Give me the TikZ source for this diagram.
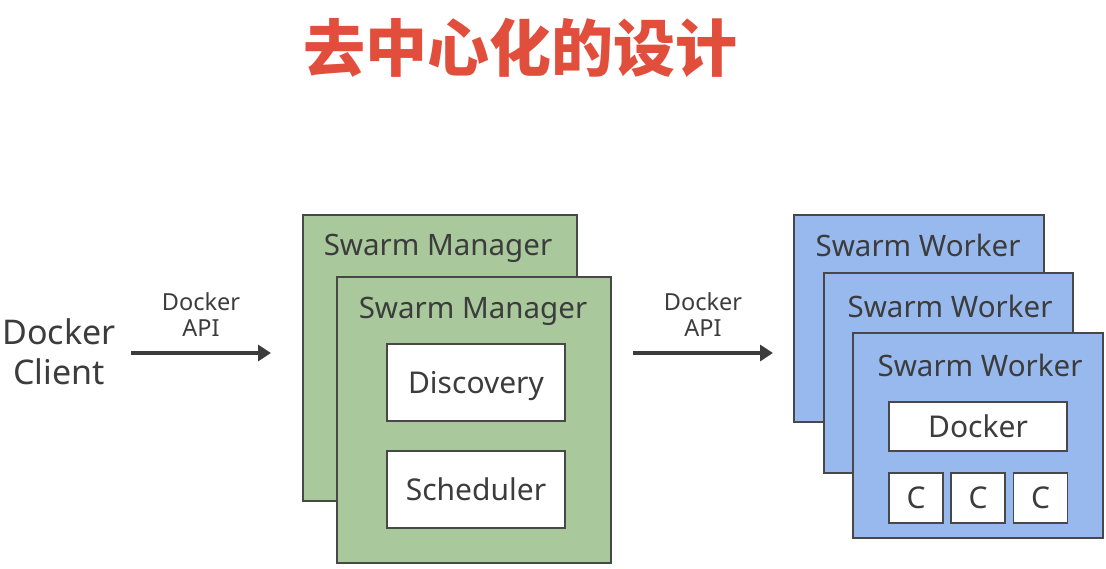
\documentclass[tikz,border=0pt]{standalone}
\usepackage{fontspec}
\setmainfont{Noto Sans}
\newfontfamily\cjk{Noto Sans CJK SC}
\usetikzlibrary{arrows.meta}
\definecolor{titlered}{RGB}{226,78,60}
\definecolor{mgreen}{RGB}{169,201,156}
\definecolor{wblue}{RGB}{151,185,238}
\definecolor{edgegray}{RGB}{72,72,72}
\definecolor{txtgray}{RGB}{60,60,60}
\tikzset{
  panel/.style={draw=edgegray, line width=1.3pt},
  gpanel/.style={panel, fill=mgreen},
  bpanel/.style={panel, fill=wblue},
  wbox/.style={draw=edgegray, line width=1.3pt, fill=white, inner sep=0pt, text=txtgray, text height=21.5pt, text depth=0pt, font=\fontsize{30}{33}\selectfont},
  lbl/.style={text=txtgray, inner sep=0pt, font=\fontsize{29.5}{33}\selectfont},
  small/.style={text=txtgray, inner sep=0pt, align=center, font=\fontsize{23.5}{26}\selectfont},
  conn/.style={draw=txtgray, line width=4pt, -{Triangle[length=13pt,width=16pt]}}
}
\begin{document}
\begin{tikzpicture}[x=1pt,y=-1pt]
\useasboundingbox[fill=white] (0,0) rectangle (1106,568);
% title
\node[text=titlered, inner sep=0pt, font=\cjk\bfseries\fontsize{62}{66}\selectfont] (title) at (520,48) {去中心化的设计};
% client
\node[text=txtgray, align=center, inner sep=0pt, font=\fontsize{34}{40}\selectfont] (client) at (59,352) {Docker\\Client};
% managers
\draw[gpanel] (303,215) rectangle (577,501);
\node[lbl] (m1) at (438,248) {Swarm Manager};
\draw[gpanel] (337,277) rectangle (611,563);
\node[lbl] (m2) at (473,311) {Swarm Manager};
\node[wbox, minimum width=178pt, minimum height=77pt] (disc) at (476,382.5) {Discovery};
\node[wbox, minimum width=178pt, minimum height=77pt] (sched) at (476,489.5) {Scheduler};
% workers
\draw[bpanel] (794,215) rectangle (1044,422);
\node[lbl] (w1) at (918,245) {Swarm Worker};
\draw[bpanel] (824,273) rectangle (1073,473);
\node[lbl] (w2) at (950,306) {Swarm Worker};
\draw[bpanel] (853,333) rectangle (1103,538);
\node[lbl] (w3) at (980,365) {Swarm Worker};
\node[wbox, minimum width=178pt, minimum height=49pt] (dock) at (978,426.5) {Docker};
\node[wbox, minimum width=54pt, minimum height=50pt] (c1) at (916,498) {C};
\node[wbox, minimum width=54pt, minimum height=50pt] (c2) at (978,498) {C};
\node[wbox, minimum width=54pt, minimum height=50pt] (c3) at (1040.5,498) {C};
% arrows
\coordinate (a1s) at (131,353);
\coordinate (a1e) at (271,353);
\draw[conn] (a1s) -- (a1e);
\node[small] (api1) at (201,315) {Docker\\API};
\coordinate (a2s) at (633,353);
\coordinate (a2e) at (773,353);
\draw[conn] (a2s) -- (a2e);
\node[small] (api2) at (703,315) {Docker\\API};
\end{tikzpicture}
\end{document}
